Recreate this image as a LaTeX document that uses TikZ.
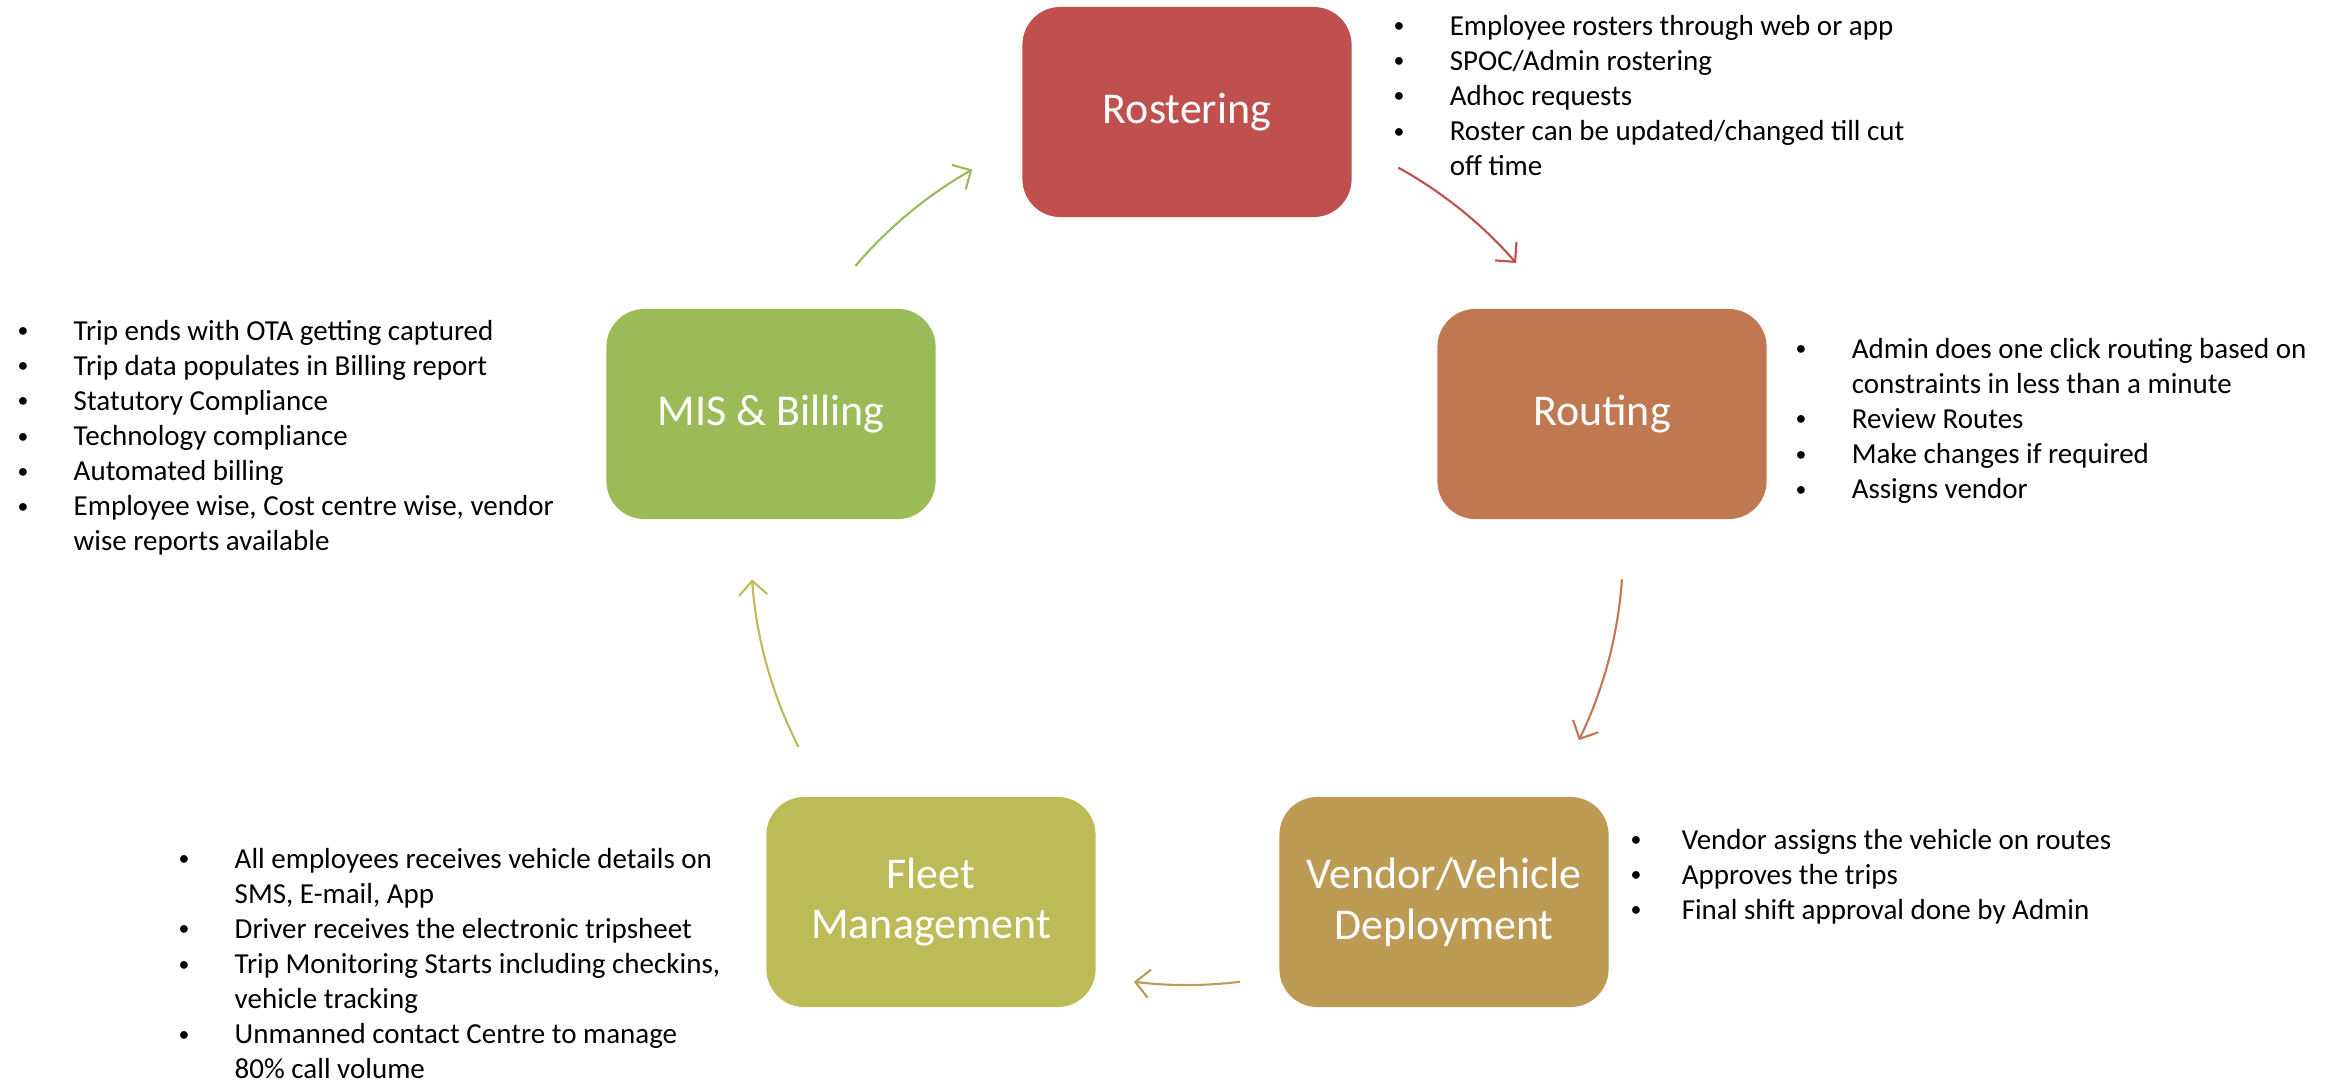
\documentclass[tikz,border=0pt]{standalone}
\usepackage{fontspec}
\setmainfont{Carlito}
\usetikzlibrary{arrows.meta}

\definecolor{rostred}{HTML}{C0504D}
\definecolor{routorange}{HTML}{C07850}
\definecolor{vendgold}{HTML}{BE9B55}
\definecolor{fleetolive}{HTML}{BDBB58}
\definecolor{misgreen}{HTML}{9BBB59}

\tikzset{
  stage/.style={rounded corners=0.38cm, minimum width=3.29cm, minimum height=2.1cm,
    text=white, align=center, inner sep=0pt, font=\fontsize{12.5}{14.5}\selectfont},
  notes/.style={anchor=base west, inner sep=0pt, font=\fontsize{8.25}{9.96}\selectfont},
  flow/.style={line width=0.6pt, -{Straight Barb[length=4pt,width=8pt]}}
}
\newcommand{\bl}{\hspace{0.04cm}\raisebox{0.15ex}{\scalebox{0.75}{\textbullet}}}

\begin{document}
\begin{tikzpicture}[x=0.01cm, y=0.01cm]
                    \useasboundingbox (0,0) rectangle (2333,-1084);

                    % stages
                    \node[stage, fill=rostred]    (rost)  at (1187,-112) {Rostering};
                    \node[stage, fill=routorange] (rout)  at (1602,-414) {Routing};
                    \node[stage, fill=vendgold]   (vend)  at (1444,-902) {Vendor/Vehicle\\Deployment};
                    \node[stage, fill=fleetolive] (fleet) at (931,-902)  {Fleet\\Management};
                    \node[stage, fill=misgreen]   (mis)   at (771,-414)  {MIS \& Billing};

                    % bullet lists
                    \node[notes] (rostlist) at (1389,-35) {\begin{tabular}[t]{@{}p{0.6cm}@{}l@{}}
                        \bl & Employee rosters through web or app\\
                        \bl & SPOC/Admin rostering\\
                        \bl & Adhoc requests\\
                        \bl & Roster can be updated/changed till cut\\
                            & off time
                      \end{tabular}};
                    \node[notes] (routlist) at (1791,-358) {\begin{tabular}[t]{@{}p{0.6cm}@{}l@{}}
                        \bl & Admin does one click routing based on\\
                            & constraints in less than a minute\\
                        \bl & Review Routes\\
                        \bl & Make changes if required\\
                        \bl & Assigns vendor
                      \end{tabular}};
                    \node[notes] (vendlist) at (1626,-849) {\begin{tabular}[t]{@{}p{0.55cm}@{}l@{}}
                        \bl & Vendor assigns the vehicle on routes\\
                        \bl & Approves the trips\\
                        \bl & Final shift approval done by Admin
                      \end{tabular}};
                    \node[notes] (fleetlist) at (174,-868) {\begin{tabular}[t]{@{}p{0.6cm}@{}l@{}}
                        \bl & All employees receives vehicle details on\\
                            & SMS, E-mail, App\\
                        \bl & Driver receives the electronic tripsheet\\
                        \bl & Trip Monitoring Starts including checkins,\\
                            & vehicle tracking\\
                        \bl & Unmanned contact Centre to manage\\
                            & 80\% call volume
                      \end{tabular}};
                    \node[notes] (mislist) at (13,-340) {\begin{tabular}[t]{@{}p{0.6cm}@{}l@{}}
                        \bl & Trip ends with OTA getting captured\\
                        \bl & Trip data populates in Billing report\\
                        \bl & Statutory Compliance\\
                        \bl & Technology compliance\\
                        \bl & Automated billing\\
                        \bl & Employee wise, Cost centre wise, vendor\\
                            & wise reports available
                      \end{tabular}};

                    % cycle arrows
                    \coordinate (hub) at (1187,-549);
                    \coordinate (a1) at ([shift={(61:436)}]hub);
                    \coordinate (a2) at ([shift={(-4:436)}]hub);
                    \coordinate (a3) at ([shift={(-83:436)}]hub);
                    \coordinate (a4) at ([shift={(207:436)}]hub);
                    \coordinate (a5) at ([shift={(139.5:436)}]hub);

                    \draw[flow, rostred]    (a1) arc[start angle=61, end angle=41, radius=436];
                    \draw[flow, routorange] (a2) arc[start angle=-4, end angle=-26, radius=436];
                    \draw[flow, vendgold]   (a3) arc[start angle=-83, end angle=-97, radius=436];
                    \draw[flow, fleetolive] (a4) arc[start angle=207, end angle=184, radius=436];
                    \draw[flow, misgreen]   (a5) arc[start angle=139.5, end angle=119.5, radius=436];

                \end{tikzpicture}
\end{document}
